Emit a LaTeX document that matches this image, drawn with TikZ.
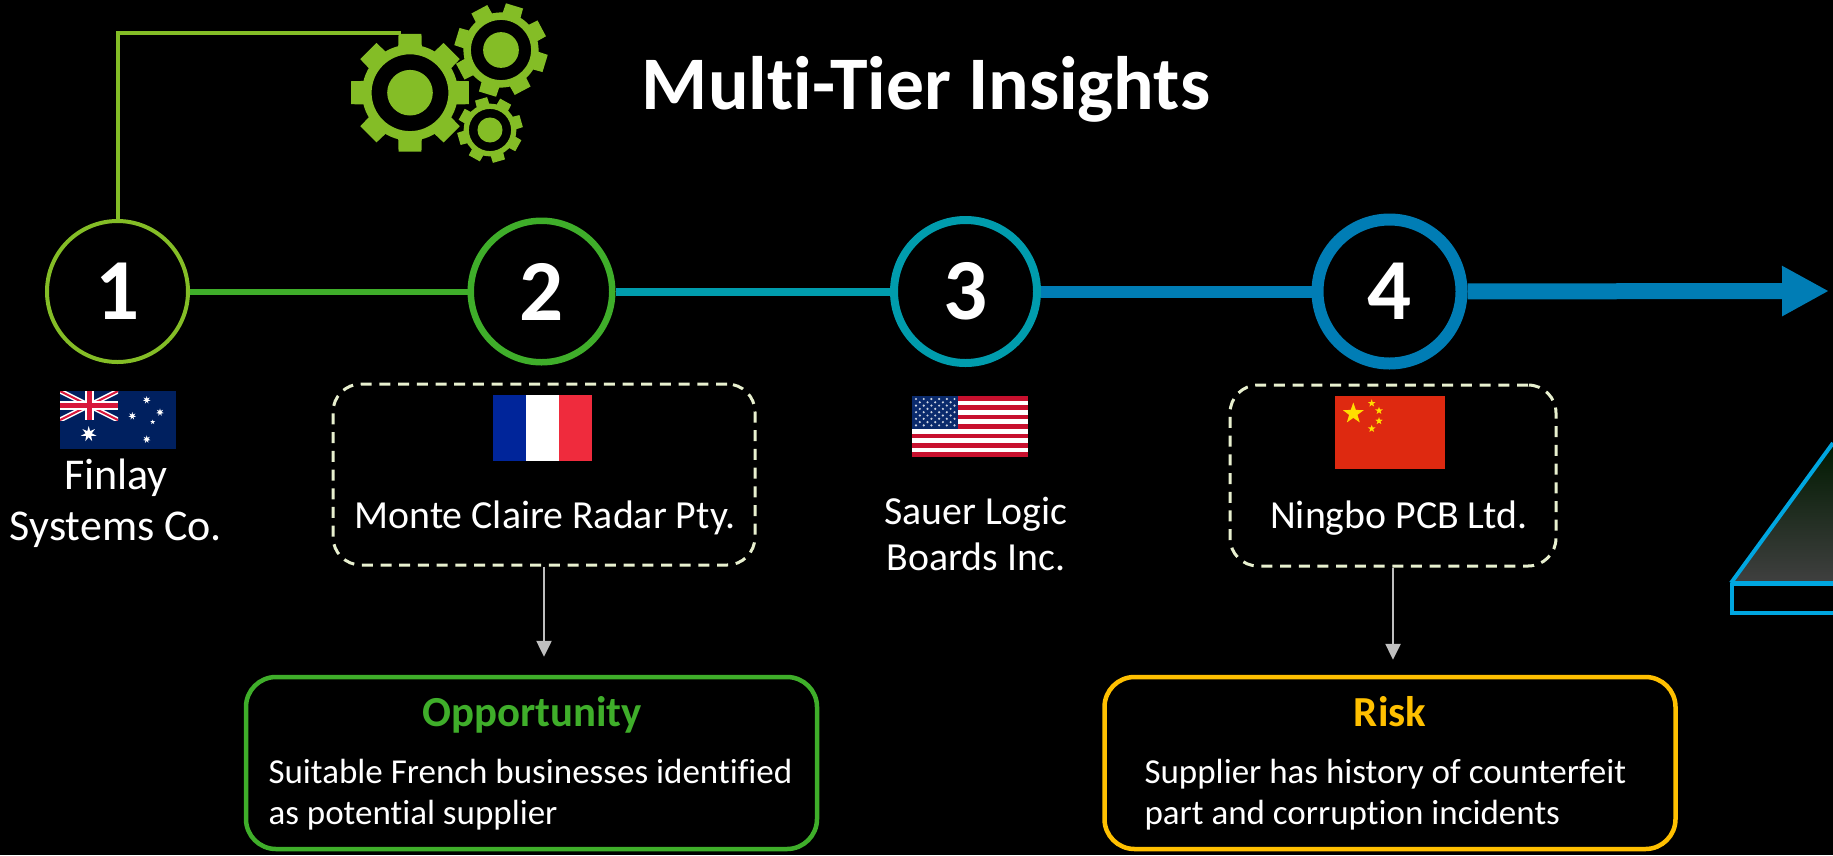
\documentclass[tikz,border=0pt]{standalone}
\usepackage{fontspec}
\setmainfont[Ligatures=NoCommon]{Carlito}
\usetikzlibrary{arrows.meta}
\definecolor{gearcol}{HTML}{84BD26}
\definecolor{tiergreen}{HTML}{3FAE2A}
\definecolor{tierteal}{HTML}{009CAD}
\definecolor{tierblue}{HTML}{007DB5}
\definecolor{riskcol}{HTML}{FFC000}
\definecolor{dashcol}{HTML}{E8F0CF}
\definecolor{plinthcol}{HTML}{00A6E0}
\definecolor{aunavy}{HTML}{00205F}
\definecolor{jackred}{HTML}{D8173B}
\definecolor{usred}{HTML}{C8102E}
\definecolor{usnavy}{HTML}{0A2A6C}
\definecolor{frblue}{HTML}{00259A}
\definecolor{frred}{HTML}{EF2B3D}
\definecolor{cnred}{HTML}{DE2910}
\definecolor{cnyellow}{HTML}{FFDE00}
\tikzstyle{tier} = [circle, draw, fill=black, text=white, inner sep=0pt,
    font=\fontsize{87}{87}\selectfont\bfseries]
\tikzstyle{dashbox} = [rectangle, draw=dashcol, rounded corners=28pt, line width=3pt,
    dash pattern=on 11pt off 7.7pt]
\tikzstyle{infobox} = [rectangle, draw, rounded corners=30pt, line width=4.5pt,
    minimum width=571pt, minimum height=172pt]
\tikzstyle{supplier} = [text=white, font=\fontsize{39.8}{46}\selectfont, align=center]
\tikzstyle{head} = [font=\fontsize{42.8}{46}\selectfont\bfseries]
\tikzstyle{body} = [text=white, font=\fontsize{35}{41}\selectfont, align=left]
\tikzstyle{down} = [draw=black!25, line width=2.5pt,
    -{Triangle[length=16pt,width=15pt,fill=black!25]}]

% x, y, radius, turn
\newcommand{\gearicon}[4]{
  \begin{scope}[shift={(#1,#2)},scale=#3]
    \fill[gearcol,even odd rule] (0,0) circle (.8) circle (.64);
    \fill[gearcol] (0,0) circle (.38);
    \foreach \a in {0,45,...,315}
      \fill[gearcol] ({\a+#4-16}:.72) -- ({\a+#4-11}:1) -- ({\a+#4+11}:1) -- ({\a+#4+16}:.72) -- cycle;
  \end{scope}
}
% x, y, radius, points, colour
\newcommand{\flagstar}[5]{
  \pgfmathtruncatemacro{\starsamples}{2*#4+1}
  \fill[#5,shift={(#1,#2)}] plot[variable=\k,domain=0:2*#4,samples=\starsamples]
    ({(.7+.3*cos(\k*180))*#3*sin(\k*180/#4)},{-(.7+.3*cos(\k*180))*#3*cos(\k*180/#4)}) -- cycle;
}

\begin{document}
\begin{tikzpicture}[x=1pt,y=-1pt,node distance=424pt]

  \fill[black] (0,0) rectangle (1833,855);
  \useasboundingbox (0,0) rectangle (1833,855);

  \node[text=white,font=\fontsize{75.7}{76}\selectfont\bfseries,anchor=base] (title) at (926,109) {Multi-Tier Insights};

  % plinth at the right edge
  \shade[top color=black!90!green,bottom color=black!75] (1731,583) -- (1833,443) -- (1833,583) -- cycle;
  \draw[plinthcol,line width=4pt] (1833,443) -- (1731,583);
  \draw[plinthcol,line width=5pt] (1731,583) -- (1833,583);
  \draw[plinthcol,line width=4pt] (1732,583) -- (1732,613) -- (1833,613);

  \node[tier,draw=gearcol,line width=4pt,minimum size=141pt] (1) at (117.5,291.5) {1};
  \node[tier,draw=tiergreen,line width=6.5pt,minimum size=141.5pt] (2) [right of=1] {2};
  \node[tier,draw=tierteal,line width=8pt,minimum size=143pt] (3) [right of=2] {3};
  \node[tier,draw=tierblue,line width=12pt,minimum size=144pt] (4) [right of=3] {4};
  \coordinate (tip) at (1829,291);
  \coordinate (gearleft) at (401,33);

  \path
  (1) edge [tiergreen,line width=6pt] (2)
  (2) edge [tierteal,line width=8pt] (3)
  (3) edge [tierblue,line width=12pt] (4)
  (4) edge [tierblue,line width=16pt,-{Triangle[length=47pt,width=47pt]}] (tip);
  \draw[gearcol,line width=4pt] (1.north) |- (gearleft);

  \gearicon{410}{92.7}{60}{0}
  \gearicon{501}{50}{47}{-28}
  \gearicon{490}{130}{33}{-16}

  % Australia
  \fill[aunavy] (60,391) rectangle (176,449);
  \begin{scope}
    \clip (60,391) rectangle (118,420);
    \draw[white,line width=5pt] (60,391) -- (118,420) (60,420) -- (118,391);
    \draw[jackred,line width=2pt] (60,391) -- (118,420) (60,420) -- (118,391);
    \draw[white,line width=9pt] (89,391) -- (89,420) (60,405.5) -- (118,405.5);
    \draw[jackred,line width=5pt] (89,391) -- (89,420) (60,405.5) -- (118,405.5);
  \end{scope}
  \flagstar{88.7}{434}{8}{7}{white}
  \flagstar{146.7}{400}{4}{7}{white}
  \flagstar{132.3}{416}{4}{7}{white}
  \flagstar{160}{412.3}{4}{7}{white}
  \flagstar{152.7}{422}{2.5}{5}{white}
  \flagstar{146.7}{439.3}{4}{7}{white}

  % France
  \fill[frblue] (493,395) rectangle (526,461);
  \fill[white] (526,395) rectangle (559,461);
  \fill[frred] (559,395) rectangle (592,461);

  % USA
  \fill[white] (912,396) rectangle (1028,457);
  \foreach \s in {0,2,...,12}
    \fill[usred] (912,{396+\s*4.69}) rectangle (1028,{396+(\s+1)*4.69});
  \fill[usnavy] (912,396) rectangle (958,428.8);
  \foreach \r in {0,2,...,8}
    \foreach \c in {0,...,5}
      \fill[white!80!usnavy] ({916+\c*7.7},{399+\r*3.3}) circle (1.2);
  \foreach \r in {1,3,...,7}
    \foreach \c in {0,...,4}
      \fill[white!80!usnavy] ({919.8+\c*7.7},{399+\r*3.3}) circle (1.2);

  % China
  \fill[cnred] (1335,396) rectangle (1445,469);
  \flagstar{1353.3}{413.5}{11}{5}{cnyellow}
  \flagstar{1371.7}{403.3}{4}{5}{cnyellow}
  \flagstar{1379}{410.7}{4}{5}{cnyellow}
  \flagstar{1379}{421}{4}{5}{cnyellow}
  \flagstar{1371.7}{428.7}{4}{5}{cnyellow}

  \node[dashbox,minimum width=422pt,minimum height=181pt] (montebox) at (544,474.5) {};
  \node[dashbox,minimum width=326pt,minimum height=181pt] (ningbobox) at (1393,475.5) {};
  \node[infobox,draw=tiergreen] (oppbox) at (531.5,763) {};
  \node[infobox,draw=riskcol] (riskbox) at (1390,763) {};

  \node[supplier,font=\fontsize{44}{51}\selectfont] (finlay) at (116,503) {Finlay\\Systems Co.};
  \node[supplier,anchor=base] (monte) at (545,528.5) {Monte Claire Radar Pty.};
  \node[supplier] (sauer) at (976,534) {Sauer Logic\\Boards Inc.};
  \node[supplier,anchor=base] (ningbo) at (1399,528.5) {Ningbo PCB Ltd.};

  \node[head,text=tiergreen,anchor=base] (opphead) at (532,726) {Opportunity};
  \node[head,text=riskcol,anchor=base] (riskhead) at (1390,726) {Risk};
  \node[body,anchor=west] (oppbody) at (265,795) {Suitable French businesses identified\\as potential supplier};
  \node[body,anchor=west] (riskbody) at (1141,795) {Supplier has history of counterfeit\\part and corruption incidents};

  \draw[down,shorten >=18pt] (montebox.south) -- (montebox.south |- oppbox.north);
  \draw[down,shorten >=15pt] (ningbobox.south) -- (ningbobox.south |- riskbox.north);

\end{tikzpicture}
\end{document}
